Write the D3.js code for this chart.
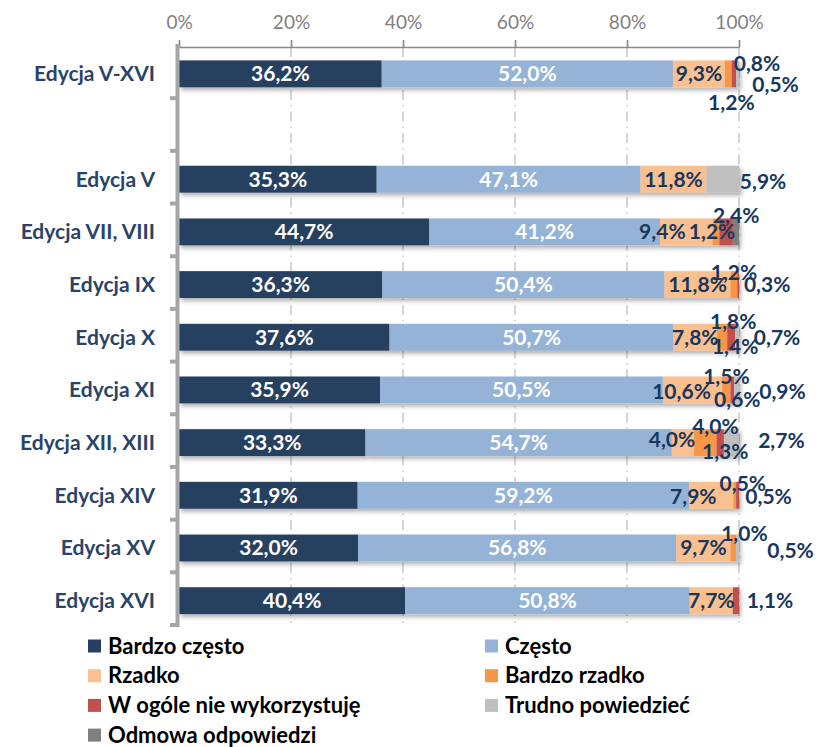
<!DOCTYPE html>
<html>
<head>
<meta charset="utf-8">
<script src="https://cdn.jsdelivr.net/npm/d3@7"></script>
<style>
  body { margin: 0; background: #fff; }
  svg { display: block; font-family: Lato, "Open Sans", sans-serif; }
</style>
</head>
<body>
<svg id="chart" width="820" height="747"></svg>
<script>
// categories (second row is an empty spacer in the original)
const categories = ["Edycja V-XVI", "", "Edycja V", "Edycja VII, VIII", "Edycja IX", "Edycja X",
  "Edycja XI", "Edycja XII, XIII", "Edycja XIV", "Edycja XV", "Edycja XVI"];

const seriesNames = ["Bardzo często", "Często", "Rzadko", "Bardzo rzadko",
  "W ogóle nie wykorzystuję", "Trudno powiedzieć", "Odmowa odpowiedzi"];

// values in %
const bardzoCzesto = [36.2, 0, 35.3, 44.7, 36.3, 37.6, 35.9, 33.3, 31.9, 32.0, 40.4];
const czesto       = [52.0, 0, 47.1, 41.2, 50.4, 50.7, 50.5, 54.7, 59.2, 56.8, 50.8];
const rzadko       = [9.3, 0, 11.8, 9.4, 11.8, 7.8, 10.6, 4.0, 7.9, 9.7, 7.7];
const bardzoRzadko = [1.2, 0, 0, 1.2, 1.2, 1.8, 1.5, 4.0, 0.5, 1.0, 0];
const wOgole       = [0.8, 0, 0, 2.4, 0.3, 1.4, 0.6, 1.3, 0.5, 0, 1.1];
const trudno       = [0.5, 0, 5.9, 0, 0, 0.7, 0.9, 2.7, 0, 0.5, 0];
const odmowa       = [0, 0, 0, 1.1, 0, 0, 0, 0, 0, 0, 0];

const tickValues = [0, 20, 40, 60, 80, 100];

const colors = ["#253f60", "#95b3d7", "#fac090", "#f79646", "#c0504d", "#bfbfbf", "#7f7f7f"];

// data labels that were not shown in the original
const hiddenLabels = ["3-6"];
// manual nudges of data labels (row-series): [dx, dy]
const labelNudge = {
  "0-3": [3, 29], "0-4": [23, -10], "0-5": [38, 11],
  "2-5": [40, 2],
  "3-2": [-24, 0], "3-3": [-4, 0], "3-4": [10, -16],
  "4-3": [0, -12], "4-4": [29, 0],
  "5-3": [11, -16], "5-4": [4, 9], "5-5": [40, 0],
  "6-2": [-11, 2], "6-3": [0, -13], "6-4": [5, 10], "6-5": [46, 2],
  "7-2": [-11, -3], "7-3": [10, -16], "7-4": [5, 9], "7-5": [50, -2],
  "8-2": [-18, 1], "8-3": [8, -12], "8-4": [31, 1],
  "9-3": [11, -14], "9-5": [53, 3],
  "10-4": [34, 0]
};

const seriesValues = [bardzoCzesto, czesto, rzadko, bardzoRzadko, wOgole, trudno, odmowa];
const table = categories.map((c, i) => {
  const row = { idx: i };
  seriesValues.forEach((arr, s) => (row[s] = arr[i]));
  return row;
});

const svg = d3.select("#chart");

const xScale = d3.scaleLinear().domain([0, 100]).range([179, 739]);
const yScale = d3
  .scaleBand()
  .domain(d3.range(categories.length))
  .range([47.5, 627])
  .paddingInner(0.49)
  .paddingOuter(0.245);

// shadow under bars
const defs = svg.append("defs");
defs
  .append("filter")
  .attr("id", "shadow")
  .attr("x", "-5%").attr("y", "-30%").attr("width", "110%").attr("height", "190%")
  .append("feDropShadow")
  .attr("dx", 2).attr("dy", 3).attr("stdDeviation", 2.2)
  .attr("flood-color", "#000").attr("flood-opacity", 0.3);

// gridlines
svg
  .append("g")
  .selectAll("line")
  .data(tickValues.slice(1))
  .enter()
  .append("line")
  .attr("x1", (d) => xScale(d))
  .attr("x2", (d) => xScale(d))
  .attr("y1", 47)
  .attr("y2", 627)
  .style("stroke", "#c4c4c4")
  .style("stroke-width", 1.4)
  .style("stroke-dasharray", "10,5,1.5,5");

// stacked bars
const stack = d3.stack().keys(d3.range(seriesNames.length));
const stacked = stack(table);

const rows = svg
  .append("g")
  .selectAll("g")
  .data(table.filter((d) => categories[d.idx] !== ""))
  .enter()
  .append("g")
  .attr("filter", "url(#shadow)");

rows
  .selectAll("rect")
  .data((row) => stacked.map((layer, s) => ({ s, row: row.idx, v0: layer[row.idx][0], v1: layer[row.idx][1] })).filter((d) => d.v1 > d.v0))
  .enter()
  .append("rect")
  .attr("x", (d) => xScale(d.v0))
  .attr("width", (d) => xScale(d.v1) - xScale(d.v0))
  .attr("y", (d) => yScale(d.row))
  .attr("height", yScale.bandwidth())
  .style("fill", (d) => colors[d.s]);

// top axis
const topAxis = svg
  .append("g")
  .attr("transform", "translate(0,47)")
  .call(d3.axisTop(xScale).tickValues(tickValues).tickFormat((d) => d + "%").tickSize(7).tickSizeOuter(0).tickPadding(11));
topAxis.select(".domain").style("stroke", "#868686").style("stroke-width", 1.6);
topAxis.selectAll(".tick line").style("stroke", "#868686").style("stroke-width", 1.6);
topAxis.selectAll("text").style("fill", "#7f7f7f").style("font-size", "19px").style("font-family", "Lato, sans-serif");

// left axis (thick grey line with ticks at band boundaries)
const step = yScale.step();
const leftAxis = svg.append("g");
leftAxis
  .append("line")
  .attr("x1", 177.5).attr("x2", 177.5)
  .attr("y1", 44).attr("y2", 627)
  .style("stroke", "#a6a6a6").style("stroke-width", 4);
leftAxis
  .selectAll(".ytick")
  .data(d3.range(1, categories.length + 1))
  .enter()
  .append("line")
  .attr("x1", 170).attr("x2", 178)
  .attr("y1", (i) => 47.5 + i * step - 2)
  .attr("y2", (i) => 47.5 + i * step - 2)
  .style("stroke", "#a6a6a6").style("stroke-width", 4);

// category labels
svg
  .append("g")
  .selectAll("text")
  .data(categories)
  .enter()
  .append("text")
  .attr("x", 155)
  .attr("y", (d, i) => yScale(i) + yScale.bandwidth() / 2)
  .attr("dy", "0.35em")
  .attr("text-anchor", "end")
  .style("font-size", "21px")
  .style("font-weight", "bold")
  .style("fill", "#2a4467")
  .text((d) => d);

// data labels
const fmt = (v) => d3.format(".1f")(v).replace(".", ",") + "%";
const labelData = [];
stacked.forEach((layer, s) => {
  layer.forEach((seg, i) => {
    const v = seriesValues[s][i];
    if (!v || hiddenLabels.includes(i + "-" + s)) return;
    const nudge = labelNudge[i + "-" + s] || [0, 0];
    labelData.push({ s, i, v, x: xScale((seg[0] + seg[1]) / 2) + nudge[0], y: yScale(i) + yScale.bandwidth() / 2 + nudge[1] });
  });
});

svg
  .append("g")
  .selectAll("text")
  .data(labelData)
  .enter()
  .append("text")
  .attr("x", (d) => d.x)
  .attr("y", (d) => d.y)
  .attr("dy", "0.35em")
  .attr("text-anchor", "middle")
  .style("font-size", "21px")
  .style("font-weight", "bold")
  .style("fill", (d) => (d.s < 2 ? "#ffffff" : "#17375e"))
  .text((d) => fmt(d.v));

// legend
const legend = svg
  .append("g")
  .selectAll("g")
  .data(seriesNames)
  .enter()
  .append("g")
  .attr("transform", (d, i) => `translate(${i % 2 ? 485 : 88},${646 + Math.floor(i / 2) * 29.7})`);

legend
  .append("rect")
  .attr("x", 0).attr("y", -6.5)
  .attr("width", 13).attr("height", 13)
  .style("fill", (d, i) => colors[i]);

legend
  .append("text")
  .attr("x", 20)
  .attr("dy", "0.35em")
  .style("font-size", "22px")
  .style("font-weight", "bold")
  .style("fill", "#000")
  .text((d) => d);
</script>
</body>
</html>
